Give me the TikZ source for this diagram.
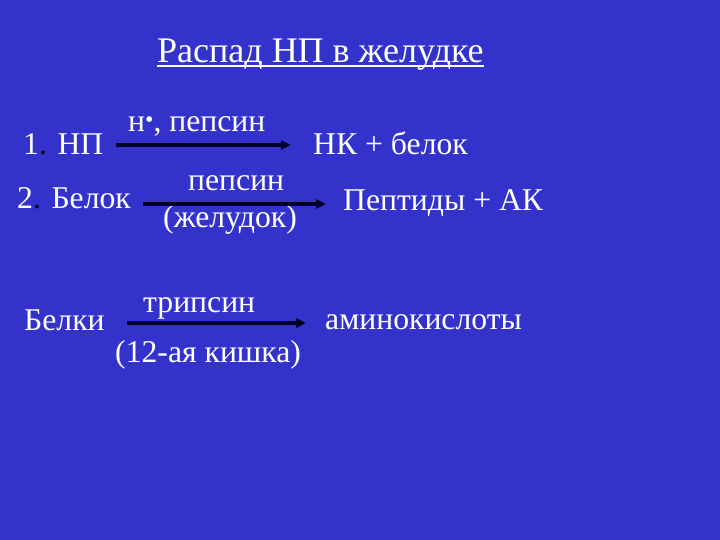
\documentclass[tikz,border=0pt]{standalone}
\usepackage{fontspec}
\setmainfont{Liberation Serif}
\definecolor{bgblue}{RGB}{51,51,204}
\definecolor{arrowdark}{RGB}{0,0,40}
\tikzset{
  txt/.style={text=white, anchor=base west, inner sep=0pt, font=\fontsize{31.7}{34}\selectfont},
  ttl/.style={text=white, anchor=base west, inner sep=0pt, font=\fontsize{36}{40}\selectfont},
  rxn/.style={draw=arrowdark, line width=3.2pt, -{Triangle[length=10pt,width=9pt]}}
}
\usetikzlibrary{arrows.meta}
\begin{document}
\begin{tikzpicture}[x=1pt,y=-1pt]
\fill[bgblue] (0,0) rectangle (720,540);
\useasboundingbox (0,0) rectangle (720,540);
% title
\node[ttl] (title) at (157,63) {Распад НП в желудке};
\draw[white, line width=2pt] (title.south west) ++(0,-5) coordinate (ul1) -- (title.south east |- ul1);
% row 1
\node[txt] (r1l) at (23,155) {1\textcolor{arrowdark}{.} НП};
\node[txt] (r1c) at (128,132) {н\raisebox{0.3ex}{\fontsize{24}{24}\selectfont •}, пепсин};
\node[txt] (r1r) at (313,155) {НК + белок};
\coordinate (a1s) at (116,145);
\coordinate (a1e) at (291,145);
\draw[rxn] (a1s) -- (a1e);
% row 2
\node[txt] (r2l) at (17,209) {2\textcolor{arrowdark}{.} Белок};
\node[txt] (r2c) at (188,191) {пепсин};
\node[txt] (r2d) at (163,228) {(желудок)};
\node[txt] (r2r) at (343,211) {Пептиды + АК};
\coordinate (a2s) at (143,204);
\coordinate (a2e) at (326,204);
\draw[rxn] (a2s) -- (a2e);
% row 3
\node[txt] (r3l) at (24,330) {Белки};
\node[txt] (r3c) at (143,312) {трипсин};
\node[txt] (r3d) at (115,362) {(12-ая кишка)};
\node[txt] (r3r) at (325,329) {аминокислоты};
\coordinate (a3s) at (127,323);
\coordinate (a3e) at (306,323);
\draw[rxn] (a3s) -- (a3e);
\end{tikzpicture}
\end{document}
